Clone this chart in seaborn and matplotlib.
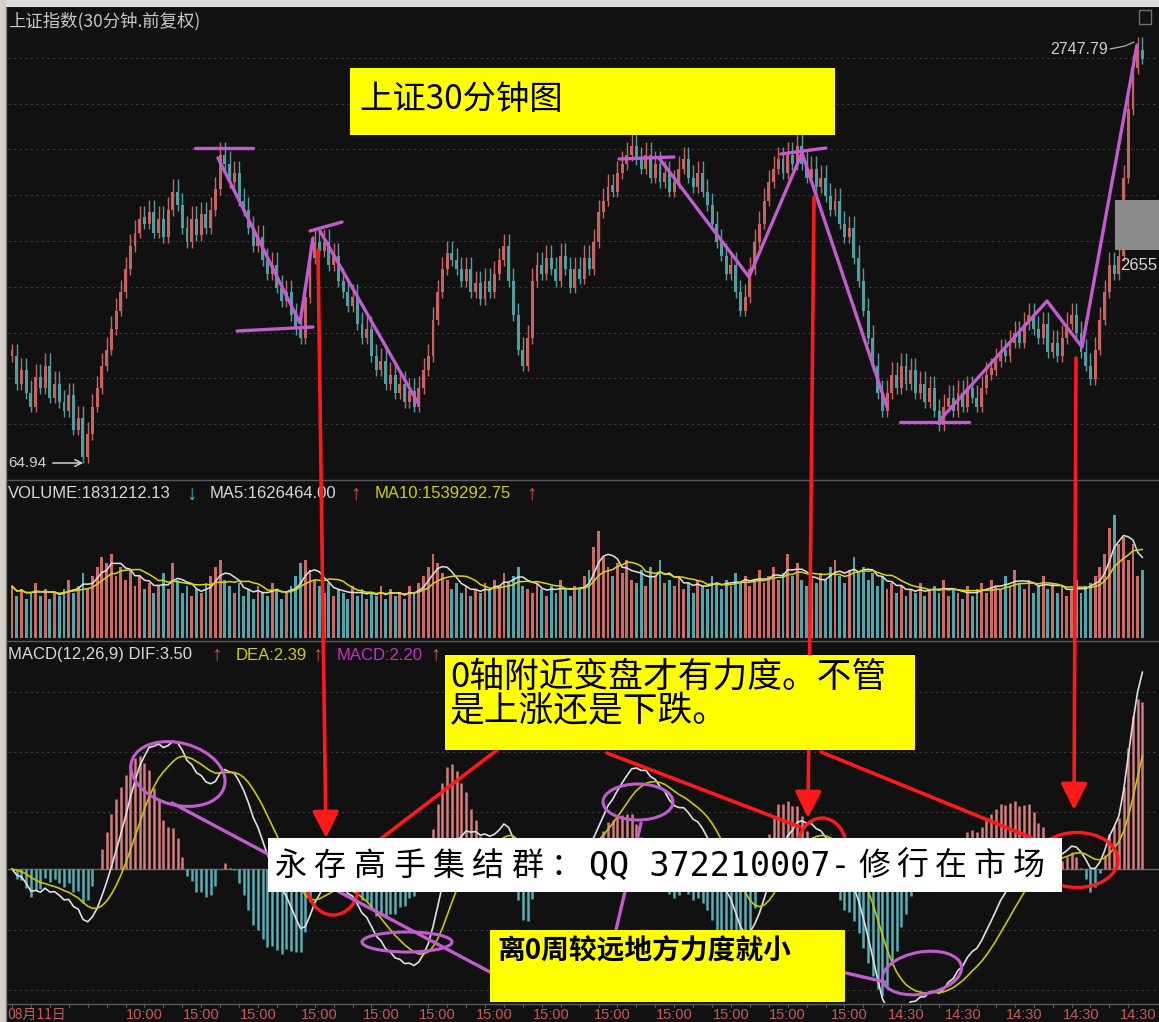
import numpy as np
import pandas as pd
import matplotlib
matplotlib.use('Agg')
import matplotlib.pyplot as plt
import matplotlib.transforms as mtrans
from matplotlib.patches import Rectangle, Ellipse
import seaborn as sns

W, H = 1159, 1022

# 30-minute closes of the Shanghai index
closes = [
    2612, 2600, 2606, 2596, 2590, 2603, 2598, 2608, 2594, 2600, 2592,
    2588, 2595, 2580, 2585, 2568, 2578,
    2590, 2598, 2608, 2615, 2624, 2632, 2640,
    2650, 2660, 2666, 2672,
    2670, 2675, 2666, 2672, 2664, 2676,
    2684, 2678,
    2668, 2662, 2672, 2665, 2674, 2668, 2676,
    2685, 2700, 2696,
    2688, 2692, 2680, 2676,
    2668, 2660, 2664, 2654, 2648, 2652, 2642, 2636, 2640, 2630, 2624,
    2620,
    2638, 2655, 2662, 2658,
    2662, 2652, 2656, 2645, 2640,
    2634, 2638, 2626, 2620, 2624, 2612, 2606, 2610, 2600, 2604, 2596, 2600, 2592, 2597, 2590,
    2598, 2606, 2612, 2628, 2640,
    2650, 2657, 2654, 2650,
    2645, 2650, 2640, 2644, 2637, 2645, 2640, 2648, 2654,
    2660, 2645,
    2630, 2615, 2608, 2620,
    2645, 2652, 2648, 2655, 2650,
    2645, 2656, 2650, 2642, 2650, 2646, 2655,
    2650,
    2662, 2675, 2680, 2686, 2684,
    2692, 2696, 2700, 2704, 2698,
    2694, 2700, 2690, 2696, 2688, 2692, 2684, 2688, 2694, 2698, 2690, 2686, 2692, 2684, 2678,
    2670, 2662, 2656, 2648, 2652, 2640, 2632, 2638,
    2650, 2662, 2670, 2680, 2688, 2694,
    2698, 2692, 2700, 2696, 2704,
    2696, 2690, 2694, 2686, 2690, 2682,
    2676, 2680, 2670, 2664, 2668,
    2655, 2645, 2632, 2620, 2608, 2596, 2588,
    2596, 2604, 2598, 2608, 2600, 2606, 2596, 2600,
    2592, 2598, 2588, 2582, 2590, 2594, 2588, 2596, 2590, 2598, 2594,
    2590, 2598, 2604,
    2606, 2610, 2614, 2612, 2618, 2622, 2618, 2626,
    2630, 2624, 2620, 2626, 2614, 2618, 2612, 2620,
    2626, 2630, 2622, 2614, 2608, 2602,
    2615, 2628, 2640, 2652, 2648, 2656, 2690, 2720, 2738, 2746, 2742,
]

# volume per bar, millions
volumes = [
    1.6, 1.3, 1.5, 1.2, 1.4, 1.7, 1.3, 1.5, 1.2, 1.4,
    1.3, 1.5, 1.8, 1.4, 1.6, 2.0, 1.5, 1.9, 2.2, 2.5,
    2.3, 2.6, 1.9, 2.2, 1.8, 2.1, 1.6, 1.9, 1.5, 1.7,
    1.4, 1.6, 2.0, 1.5, 2.3, 1.8, 1.4, 1.6, 1.3, 1.5,
    1.4, 1.7, 1.9, 2.2, 2.4, 1.8, 1.6, 1.4, 1.7, 1.3,
    1.5, 1.2, 1.6, 1.4, 1.3, 1.7, 1.5, 1.2, 1.4, 1.6,
    1.9, 2.3, 2.4, 2.1, 1.8, 1.6, 1.4, 1.7, 1.3, 1.5,
    1.4, 1.2, 1.6, 1.3, 1.5, 1.2, 1.4, 1.3, 1.6, 1.2,
    1.5, 1.3, 1.4, 1.2, 1.6, 1.4, 1.7, 1.9, 2.2, 2.6,
    2.3, 2.0, 1.8, 1.5, 1.7, 1.4, 1.6, 1.3, 1.5, 1.4,
    1.7, 1.5, 1.8, 1.6, 2.0, 1.7, 1.9, 2.2, 1.6, 1.5,
    1.4, 1.7, 1.5, 1.3, 1.6, 1.4, 1.8, 1.5, 1.3, 1.6,
    1.5, 1.9, 2.1, 2.8, 3.3, 2.5, 2.2, 1.9, 2.3, 2.0,
    2.4, 1.8, 1.7, 2.1, 1.6, 2.2, 1.9, 2.4, 1.7, 1.8,
    1.6, 1.9, 1.5, 1.7, 1.4, 1.8, 1.6, 1.5, 1.9, 1.7,
    1.5, 1.8, 1.6, 2.0, 1.7, 1.9, 1.6, 1.8, 2.1, 1.7,
    1.9, 2.2, 1.8, 2.0, 2.6, 1.9, 2.3, 1.8, 1.6, 1.9,
    1.7, 2.0, 1.8, 2.2, 2.4, 1.9, 1.7, 2.1, 2.5, 2.0,
    2.2, 1.8, 2.0, 1.6, 1.9, 1.5, 1.7, 1.4, 1.6, 1.3,
    1.5, 1.4, 1.7, 1.3, 1.5, 1.6, 1.4, 1.8, 1.3, 1.5,
    1.4, 1.2, 1.6, 1.3, 1.5, 1.7, 1.4, 1.8, 1.6, 1.5,
    1.9, 1.6, 2.1, 1.7, 1.5, 1.8, 1.4, 1.6, 1.9, 1.5,
    1.7, 1.4, 1.6, 1.3, 1.5, 1.8, 1.4, 1.6, 1.7, 1.9,
    2.2, 2.6, 3.4, 3.8, 2.9, 3.1, 2.4, 2.9, 1.9, 2.1,
]

tick_bars = [28, 40, 52, 65, 78, 90, 102, 114, 127, 140, 152, 164, 177,
             189, 201, 214, 226, 238]
tick_labels = ['10:00'] + ['15:00'] * 12 + ['14:30'] * 5
first_label = '08月11日'

price_high = 2747.79
price_low_text = '64.94'

BG = '#111111'
RED = '#c8645f'
CYAN = '#4f9fa2'
YEL = '#c8c800'
WHITE = '#e0e0e0'
PURPLE = '#c25ccf'
ARED = '#ff1a1a'

sns.set_theme(style='dark')
plt.rcParams['font.family'] = ['Noto Sans CJK SC', 'DejaVu Sans']
NUM = ['Liberation Sans', 'DejaVu Sans']

df = pd.DataFrame({'close': closes, 'volume': volumes})
df['bar'] = np.arange(len(df))
df['open'] = df['close'].shift(1).fillna(df['close'])
df['up'] = df['close'] >= df['open']
ema12 = df['close'].ewm(span=12, adjust=False).mean()
ema26 = df['close'].ewm(span=26, adjust=False).mean()
df['dif'] = ema12 - ema26
df['dea'] = df['dif'].ewm(span=9, adjust=False).mean()
df['macd'] = 2 * (df['dif'] - df['dea'])
df['ma5'] = df['volume'].rolling(5, min_periods=1).mean()
df['ma10'] = df['volume'].rolling(10, min_periods=1).mean()


def box(left, top, right, bottom):
    return [left / W, 1 - bottom / H, (right - left) / W, (bottom - top) / H]


def price_at(y):
    # pixel row -> price on the chart's own scale
    return price_high - (y - 42) / 2.29


fig = plt.figure(figsize=(W / 100, H / 100), dpi=100, facecolor=BG)
ax_p = fig.add_axes(box(8, 35, 1159, 478))
ax_v = fig.add_axes(box(8, 505, 1159, 638))
ax_m = fig.add_axes(box(8, 663, 1159, 1003))

xlim = ((8 - 12) / 4.73, (1159 - 12) / 4.73)
for ax in (ax_p, ax_v, ax_m):
    ax.set_facecolor(BG)
    ax.set_xlim(*xlim)
    for s in ax.spines.values():
        s.set_visible(False)
    ax.set_xticks([])
    ax.set_yticks([])

# price panel
ax_p.set_ylim(price_at(478), price_at(35))
for g in np.linspace(price_at(424), price_at(58), 9):
    ax_p.axhline(g, color='#3c3c3c', lw=0.8, ls=(0, (2, 3)), zorder=0)
for sub, col in ((df[df.up], RED), (df[~df.up], CYAN)):
    lo = np.minimum(sub['open'], sub['close'])
    hi = np.maximum(sub['open'], sub['close'])
    ax_p.vlines(sub['bar'], lo - 4, hi + 4, colors=col, lw=1.0, zorder=2)
    ax_p.bar(sub['bar'], np.maximum(hi - lo, 3.0), bottom=lo - 1.5, width=0.62,
             color=col, linewidth=0, zorder=2)
ax_p.set_xlabel('')
ax_p.set_ylabel('')

# volume panel
vcol = np.where(df['up'], '#cc6a66', '#4fa6ad')
ax_v.bar(df['bar'], df['volume'], width=0.6, color=vcol, linewidth=0)
sns.lineplot(data=df, x='bar', y='ma5', ax=ax_v, color=WHITE, lw=1.1, legend=False)
sns.lineplot(data=df, x='bar', y='ma10', ax=ax_v, color='#d8d800', lw=1.1, legend=False)
ax_v.set_ylim(0, 4.1)
ax_v.set_xlabel('')
ax_v.set_ylabel('')

# MACD panel
scale = df['dif'].max() / 197
ax_m.set_ylim(-134 * scale, 206 * scale)
for yy in (692, 752, 812, 930, 990):
    ax_m.axhline((869 - yy) * scale, color='#3c3c3c', lw=0.8, ls=(0, (2, 3)), zorder=0)
ax_m.axhline(0, color='#6a6a6a', lw=1.0, zorder=1)
mcol = np.where(df['macd'] >= 0, '#d47c7c', '#58aeb5')
ax_m.vlines(df['bar'], 0, df['macd'], colors=mcol, lw=1.8, zorder=2)
sns.lineplot(data=df, x='bar', y='dif', ax=ax_m, color=WHITE, lw=1.2, legend=False, zorder=3)
sns.lineplot(data=df, x='bar', y='dea', ax=ax_m, color=YEL, lw=1.2, legend=False, zorder=3)
ax_m.set_xlabel('')
ax_m.set_ylabel('')

# time axis
tx = mtrans.blended_transform_factory(ax_m.transData, fig.transFigure)
for b in range(0, 240, 4):
    ax_m.plot([b, b], [1 - 1004 / H, 1 - 1007 / H], transform=tx, color='#5a5a5a',
              lw=0.8, clip_on=False)
ax_m.text(-1.06, 1 - 1015 / H, first_label, transform=tx, ha='left', va='center',
          color='#c85a5a', fontsize=10)
for b, lab in zip(tick_bars, tick_labels):
    ax_m.text(b, 1 - 1015 / H, lab, transform=tx, ha='center', va='center',
              color='#c85a5a', fontsize=10.5, family=NUM)

# overlay in pixel space
ov = fig.add_axes([0, 0, 1, 1])
ov.set_xlim(0, W)
ov.set_ylim(H, 0)
ov.axis('off')
ov.patch.set_alpha(0)

# window frame and panel separators
ov.add_patch(Rectangle((0, 0), W, 7, color='#dcdcdc', lw=0))
ov.add_patch(Rectangle((0, 0), 6, H, color='#d4d0c8', lw=0))
ov.plot([6, 6], [7, H], color='#808080', lw=1)
ov.add_patch(Rectangle((1139, 10), 12, 14, fill=False, ec='#707070', lw=1))
for yy in (480, 641, 1004):
    ov.plot([7, W], [yy, yy], color='#5a5a5a', lw=1)

# header texts
ov.text(8, 21, '上证指数(30分钟.前复权)', color='#c8c8c8', fontsize=12.5, va='center')
hdr = [
    (8, 494, 'VOLUME:1831212.13', '#d8d8d8'), (186, 494, '↓', '#40c0d0'),
    (210, 494, 'MA5:1626464.00', '#d8d8d8'), (350, 494, '↑', '#e05050'),
    (375, 494, 'MA10:1539292.75', '#d0d000'), (526, 494, '↑', '#e05050'),
    (8, 655, 'MACD(12,26,9) DIF:3.50', '#d8d8d8'), (211, 655, '↑', '#e05050'),
    (236, 655, 'DEA:2.39', '#d0d000'), (312, 655, '↑', '#e05050'),
    (337, 655, 'MACD:2.20', '#c830c8'), (430, 655, '↑', '#e05050'),
]
for x, y, t, c in hdr:
    fs = 15 if t in ('↑', '↓') else 12
    ov.text(x, y, t, color=c, fontsize=fs, family=NUM, va='center', ha='left')

# price labels
ov.text(1108, 50, f'{price_high:.2f}', color='#d0d0d0', fontsize=11.5, family=NUM,
        ha='right', va='center')
ov.plot([1110, 1125, 1134], [49, 46, 42], color='#b0b0b0', lw=0.9)
ov.text(8, 463, price_low_text, color='#d0d0d0', fontsize=11, family=NUM, va='center')
ov.annotate('', xy=(86, 463), xytext=(50, 463),
            arrowprops=dict(arrowstyle='->', color='#d0d0d0', lw=1.1))
ov.add_patch(Rectangle((1115, 200), 44, 50, color='#8c8c8c', lw=0))
ov.text(1120, 266, '2655', color='#d8d8d8', fontsize=12, family=NUM, va='center')

# red arrows and links
arrow = dict(arrowstyle='-|>,head_length=0.9,head_width=0.45', color=ARED, lw=2.6,
             mutation_scale=18, shrinkA=0, shrinkB=0)
for (x0, y0, x1, y1) in ((318, 250, 326, 838), (814, 197, 808, 818), (1076, 358, 1074, 810)):
    ov.annotate('', xy=(x1, y1), xytext=(x0, y0), arrowprops=arrow)
for pts in ([(497, 750), (340, 870)], [(607, 753), (800, 827)], [(821, 752), (1032, 838)]):
    xs, ys = zip(*pts)
    ov.plot(xs, ys, color=ARED, lw=2.6)
for (cx, cy, w, h) in ((333, 884, 52, 62), (822, 850, 50, 64), (1077, 860, 82, 55)):
    ov.add_patch(Ellipse((cx, cy), w, h, fill=False, ec=ARED, lw=2.4))

# purple trend marks
purple_lines = [
    [(195, 148), (253, 148)],
    [(218, 158), (300, 323), (313, 238)],
    [(310, 231), (342, 222)],
    [(320, 231), (418, 403)],
    [(237, 331), (313, 327)],
    [(619, 159), (674, 157)],
    [(659, 158), (749, 277), (802, 153), (887, 407)],
    [(781, 154), (826, 148)],
    [(900, 422), (969, 422)],
    [(940, 420), (1047, 301), (1082, 347), (1137, 45)],
    [(172, 803), (490, 972)],
    [(641, 823), (616, 930)],
    [(846, 973), (885, 982)],
]
for pts in purple_lines:
    xs, ys = zip(*pts)
    ov.plot(xs, ys, color=PURPLE, lw=2.4, solid_capstyle='round')
for (cx, cy, w, h, a) in ((178, 774, 96, 62, 15), (407, 942, 90, 20, 0),
                          (638, 802, 70, 36, 0), (922, 973, 80, 42, -10)):
    ov.add_patch(Ellipse((cx, cy), w, h, angle=a, fill=False, ec=PURPLE, lw=2.2))

# annotation boxes
ov.add_patch(Rectangle((350, 68), 485, 67, color='#ffff00', lw=0, zorder=5))
ov.text(359, 99, '上证30分钟图', color='black', fontsize=24, va='center', zorder=6)
ov.add_patch(Rectangle((445, 655), 470, 95, color='#ffff00', lw=0, zorder=5))
ov.text(450, 677, '0轴附近变盘才有力度。不管', color='black', fontsize=25, va='center', zorder=6)
ov.text(450, 712, '是上涨还是下跌。', color='black', fontsize=25, va='center', zorder=6)
ov.add_patch(Rectangle((490, 930), 355, 72, color='#ffff00', lw=0, zorder=5))
ov.text(497, 952, '离0周较远地方力度就小', color='black', fontsize=20, weight='bold',
        va='center', zorder=6)

ov.add_patch(Rectangle((268, 838), 794, 54, color='white', lw=0, zorder=5))
for k, ch in enumerate('永存高手集结群：'):
    ov.text(275 + 39.3 * k, 866, ch, color='black', fontsize=23, va='center', zorder=6)
ov.text(589, 866, 'QQ 372210007-', color='black', fontsize=24, family='DejaVu Sans Mono',
        va='center', zorder=6)
for k, ch in enumerate('修行在市场'):
    ov.text(858 + 38.6 * k, 866, ch, color='black', fontsize=23, va='center', zorder=6)

fig.savefig('out.png', dpi=100, facecolor=BG)
